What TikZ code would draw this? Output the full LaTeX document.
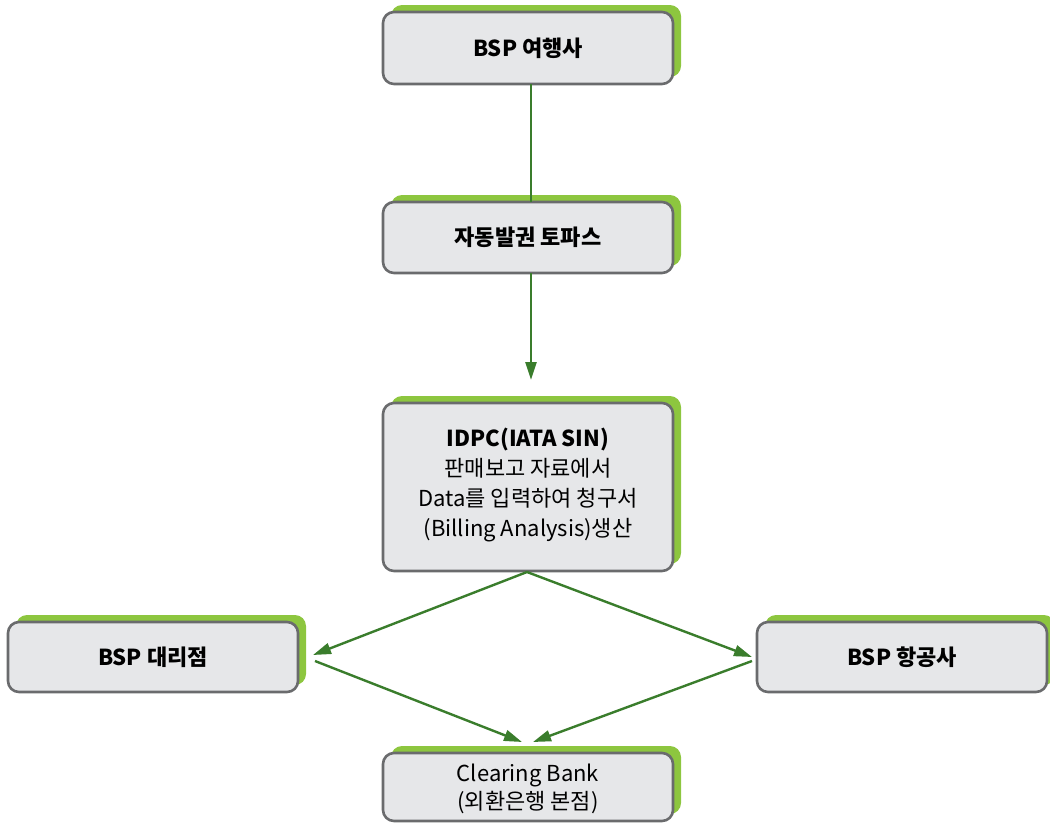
\documentclass[tikz,border=0pt]{standalone}
\usepackage{fontspec}
\setmainfont{Noto Sans CJK KR}
\usetikzlibrary{arrows.meta,calc}
\definecolor{boxfill}{HTML}{E6E7E9}
\definecolor{boxline}{HTML}{6A6B6D}
\definecolor{shadowgreen}{HTML}{8DC63F}
\definecolor{arrowgreen}{HTML}{3A7D2C}
\begin{document}
\begin{tikzpicture}[x=1pt,y=-1pt,
  boxstyle/.style={draw=boxline, line width=2.6pt, fill=boxfill, rounded corners=11pt},
  shadowstyle/.style={fill=shadowgreen, rounded corners=11pt},
  lbl/.style={font=\fontsize{22}{30}\selectfont, align=center, text=black},
  conn/.style={draw=arrowgreen, line width=2.4pt},
  arr/.style={conn, -{Triangle[length=18pt,width=11pt]}}
]
\useasboundingbox (0,0) rectangle (1050,823);
% helper: shadow + box
\newcommand{\mybox}[5]{%
  \fill[shadowstyle] (#1+8,#2-7) rectangle (#3+8,#4-7);
  \draw[boxstyle] (#1,#2) rectangle (#3,#4);
  \node[lbl] (#5) at ({(#1+#3)/2},{(#2+#4)/2}) {};
}
\mybox{383}{12}{673}{84}{a}
\node[lbl] at (a) {\bfseries BSP 여행사};
\mybox{383}{202}{673}{273}{b}
\node[lbl] at (b) {\bfseries 자동발권 토파스};
\mybox{383}{403}{673}{571}{c}
\node[lbl] at ($(c)+(0,-2)$) {\bfseries IDPC(IATA SIN)\\판매보고 자료에서\\Data를 입력하여 청구서\\(Billing Analysis)생산};
\mybox{8}{622}{298}{692}{d}
\node[lbl] at (d) {\bfseries BSP 대리점};
\mybox{757}{622}{1047}{692}{e}
\node[lbl] at (e) {\bfseries BSP 항공사};
\mybox{383}{753}{673}{821}{f}
\node[lbl, font=\fontsize{22}{28}\selectfont] at ($(f)+(0,2)$) {Clearing Bank\\(외환은행 본점)};

\coordinate (atop) at (531,84);
\coordinate (bbot) at (531,202);
\coordinate (btop) at (531,273);
\coordinate (bend) at (531,380);
\coordinate (cbot) at (527,572);
\coordinate (dtip) at (313,655);
\coordinate (etip) at (752,657);
\coordinate (dout) at (315,661);
\coordinate (eout) at (752,661);
\coordinate (ftipl) at (522,742);
\coordinate (ftipr) at (533,742);

\draw[conn] (atop) -- (bbot);
\draw[arr] (btop) -- (bend);
\draw[arr] (cbot) -- (dtip);
\draw[arr] (cbot) -- (etip);
\draw[arr] (dout) -- (ftipl);
\draw[arr] (eout) -- (ftipr);
\end{tikzpicture}
\end{document}
